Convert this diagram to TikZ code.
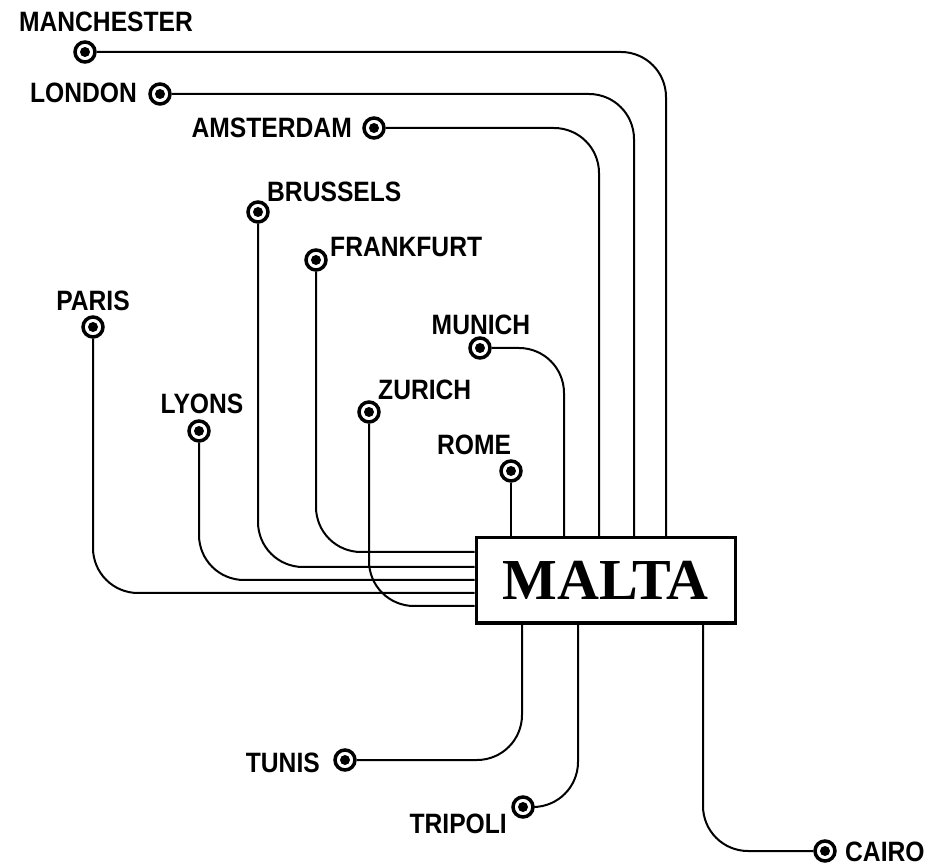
\documentclass[tikz,border=0pt]{standalone}
\usepackage{fontspec}
\newfontfamily\labfont{Liberation Sans}[FakeStretch=0.88]
\newfontfamily\maltafont{Liberation Serif}
\begin{document}
\begin{tikzpicture}[x=1pt,y=-1pt,
  citydot/.style={circle,draw,line width=3.5pt,minimum size=20pt,inner sep=0pt,
    path picture={\fill (path picture bounding box.center) circle (5pt);}},
  city/.style={inner sep=0pt,font=\labfont\bfseries\fontsize{28}{28}\selectfont},
  conn/.style={line width=2pt,rounded corners=45pt},
  hub/.style={draw,line width=3pt,minimum width=259pt,minimum height=85pt,inner sep=0pt,
    font=\maltafont\bfseries\fontsize{58}{58}\selectfont}]
\useasboundingbox (0,0) rectangle (930,866);
% hub
\node[hub] (malta) at (605.5,580.5) {MALTA};
% dots
\node[citydot] (manch) at (85,52) {};
\node[citydot] (london) at (160,94) {};
\node[citydot] (amst) at (374,128) {};
\node[citydot] (bruss) at (258,212) {};
\node[citydot] (frank) at (316,260) {};
\node[citydot] (paris) at (93,327) {};
\node[citydot] (lyons) at (199,431) {};
\node[citydot] (munich) at (480,348) {};
\node[citydot] (zurich) at (369,412) {};
\node[citydot] (rome) at (511,471) {};
\node[citydot] (tunis) at (345,760) {};
\node[citydot] (tripoli) at (523,807) {};
\node[citydot] (cairo) at (825,851) {};
% labels
\node[city,anchor=base] (lmanch) at (106,32) {MANCHESTER};
\node[city,anchor=base east] (llondon) at (137,103) {LONDON};
\node[city,anchor=base east] (lamst) at (352,138) {AMSTERDAM};
\node[city,anchor=base west] (lbruss) at (267,202) {BRUSSELS};
\node[city,anchor=base west] (lfrank) at (330,257) {FRANKFURT};
\node[city,anchor=base] (lparis) at (93,311) {PARIS};
\node[city,anchor=base] (llyons) at (202,414) {LYONS};
\node[city,anchor=base] (lmunich) at (481,335) {MUNICH};
\node[city,anchor=base west] (lzurich) at (378,400) {ZURICH};
\node[city,anchor=base] (lrome) at (474,455) {ROME};
\node[city,anchor=base east] (ltunis) at (320,772) {TUNIS};
\node[city,anchor=base east] (ltripoli) at (507,833) {TRIPOLI};
\node[city,anchor=base west] (lcairo) at (845,861) {CAIRO};
% top connectors
\draw[conn] (manch) -| (666,0 |- malta.north);
\draw[conn] (london) -| (634,0 |- malta.north);
\draw[conn] (amst) -| (599,0 |- malta.north);
\draw[conn] (munich) -| (564,0 |- malta.north);
\draw[conn] (rome) -- (rome |- malta.north);
% left connectors
\draw[conn] (frank) |- (malta.west |- 0,552);
\draw[conn] (bruss) |- (malta.west |- 0,567);
\draw[conn] (lyons) |- (malta.west |- 0,580);
\draw[conn] (paris) |- (malta.west |- 0,593);
\draw[conn] (zurich) |- (malta.west |- 0,606);
% bottom connectors
\draw[conn] (522,0 |- malta.south) |- (tunis);
\draw[conn] (578,0 |- malta.south) |- (tripoli);
\draw[conn] (703,0 |- malta.south) |- (cairo);
\end{tikzpicture}
\end{document}
